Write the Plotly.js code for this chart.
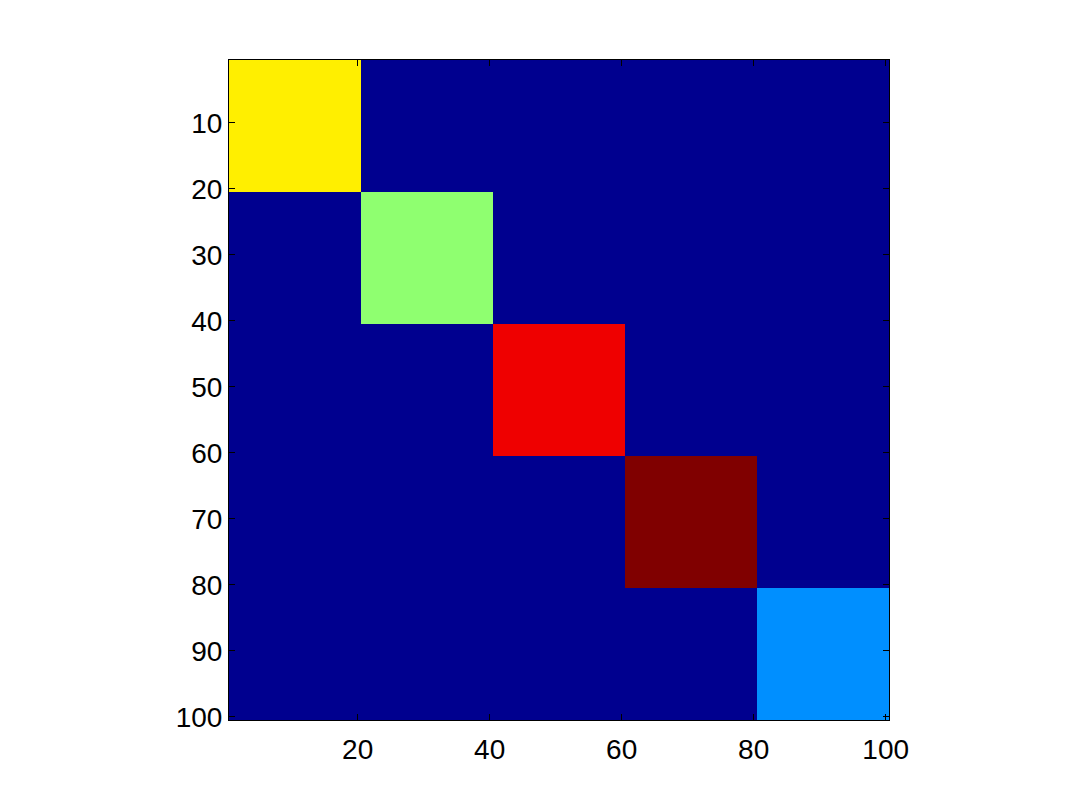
<!DOCTYPE html>
<html>
<head>
<meta charset="utf-8">
<script src="https://cdn.plot.ly/plotly-3.0.1.min.js"></script>
<style>
  body { margin: 0; background: #fff; }
  #plot { width: 1080px; height: 812px; }
</style>
</head>
<body>
<div id="plot"></div>
<script>
// matrix is 100 x 100, five 20x20 blocks on the diagonal, rest zero
let n = 100;
let blockStarts = [1, 21, 41, 61, 81];
let blockSize = 20;
let blockValues = [5, 4, 7, 8, 2];
let background = 0;
let xTicks = [20, 40, 60, 80, 100];
let yTicks = [10, 20, 30, 40, 50, 60, 70, 80, 90, 100];

let idx = [];
for (let i = 1; i <= n; i++) idx.push(i);

let z = [];
for (let r = 1; r <= n; r++) {
  let row = [];
  for (let c = 1; c <= n; c++) {
    let v = background;
    for (let b = 0; b < blockStarts.length; b++) {
      let s = blockStarts[b];
      if (r >= s && r < s + blockSize && c >= s && c < s + blockSize) v = blockValues[b];
    }
    row.push(v);
  }
  z.push(row);
}

// MATLAB jet(64), as a stepped colorscale
function jet(m) {
  let k = Math.ceil(m / 4);
  let u = [];
  for (let i = 1; i <= k; i++) u.push(i / k);
  for (let i = 1; i < k; i++) u.push(1);
  for (let i = k; i >= 1; i--) u.push(i / k);
  let off = Math.ceil(k / 2) - (m % 4 === 1 ? 1 : 0);
  let cols = [];
  for (let i = 0; i < m; i++) cols.push([0, 0, 0]);
  for (let j = 0; j < u.length; j++) {
    let g = off + j + 1, r = g + k, b = g - k;
    if (g >= 1 && g <= m) cols[g - 1][1] = u[j];
    if (r >= 1 && r <= m) cols[r - 1][0] = u[j];
    if (b >= 1 && b <= m) cols[b - 1][2] = u[j];
  }
  return cols.map(c => 'rgb(' + c.map(x => Math.round(x * 255)).join(',') + ')');
}
let jetCols = jet(64);
let colorscale = [];
jetCols.forEach((c, i) => {
  colorscale.push([i / 64, c]);
  colorscale.push([i === 63 ? 1 : (i + 1) / 64 - 1e-6, c]);
});

let trace = {
  type: 'heatmap',
  x: idx,
  y: idx,
  z: z,
  zmin: 0,
  zmax: 8,
  colorscale: colorscale,
  showscale: false,
  hoverinfo: 'none'
};

let axisStyle = {
  showgrid: false,
  zeroline: false,
  showline: true,
  linecolor: '#000',
  linewidth: 1,
  mirror: 'ticks',
  ticks: 'inside',
  ticklen: 6,
  tickwidth: 1,
  tickcolor: '#000',
  tickfont: {family: 'Liberation Sans, Arial, sans-serif', size: 28, color: '#000'}
};

let layout = {
  width: 1080,
  height: 812,
  margin: {l: 229, r: 191, t: 60, b: 92},
  paper_bgcolor: '#fff',
  plot_bgcolor: '#fff',
  xaxis: Object.assign({}, axisStyle, {
    range: [0.5, 100.5],
    tickvals: xTicks,
    ticktext: xTicks.map(String),
    ticklabelstandoff: 4
  }),
  yaxis: Object.assign({}, axisStyle, {
    range: [100.5, 0.5],
    tickvals: yTicks,
    ticktext: yTicks.map(String)
  })
};

Plotly.newPlot('plot', [trace], layout, {displayModeBar: false, staticPlot: true});
</script>
</body>
</html>
